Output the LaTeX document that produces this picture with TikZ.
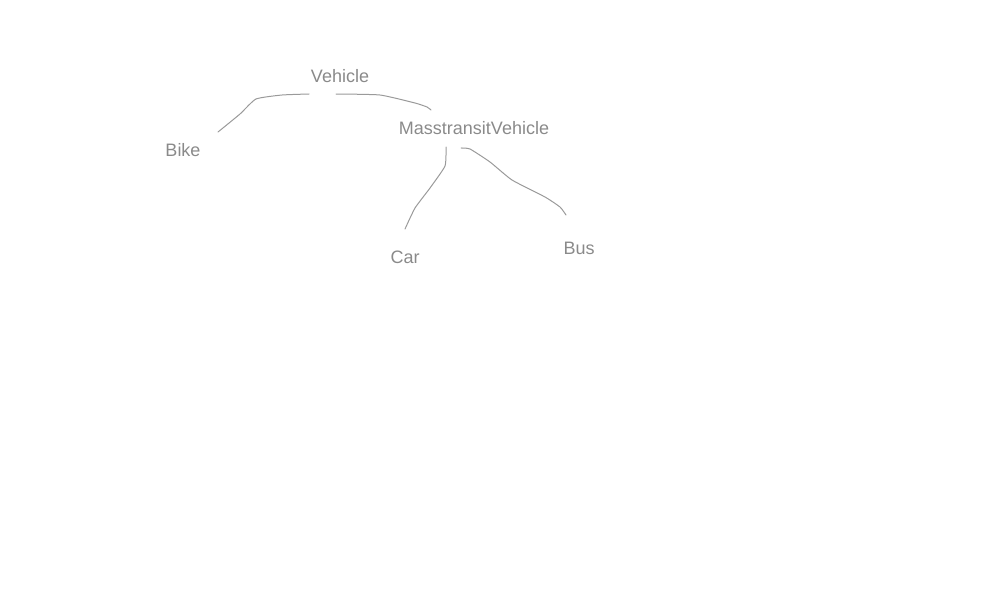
\documentclass[tikz,border=0pt]{standalone}
\usepackage{fontspec}
\setmainfont{Liberation Sans}
\definecolor{ink}{HTML}{8A8A8A}
\definecolor{wirec}{HTML}{9A9A9A}
\begin{document}
\begin{tikzpicture}[x=1pt,y=-1pt,
  lbl/.style={text=ink,font=\fontsize{18}{21}\selectfont,inner sep=0pt},
  wire/.style={draw=wirec,line width=1pt,line cap=round,line join=round}]
\useasboundingbox (0,0) rectangle (1000,600);
\node[lbl] (veh) at (340,76) {Vehicle};
\node[lbl] (bike) at (183,150) {Bike};
\node[lbl] (mtv) at (474,128) {MasstransitVehicle};
\node[lbl] (car) at (405,257) {Car};
\node[lbl] (bus) at (579,248) {Bus};
% Vehicle -> Bike
\coordinate (vb1) at (309,94);
\coordinate (vb2) at (218,132);
\draw[wire] plot[smooth,tension=0.3] coordinates {(vb1) (282,95) (256,99) (240,114) (vb2)};
% Vehicle -> MTV
\coordinate (vm1) at (336,94);
\coordinate (vm2) at (431,110);
\draw[wire] plot[smooth,tension=0.3] coordinates {(vm1) (380,95) (415,103) (427,107) (vm2)};
% MTV -> Car
\coordinate (mc1) at (446,147);
\coordinate (mc2) at (405,229);
\draw[wire] plot[smooth,tension=0.3] coordinates {(mc1) (445,166) (430,188) (415,208) (mc2)};
% MTV -> Bus
\coordinate (mb1) at (461,148);
\coordinate (mb2) at (566,215);
\draw[wire] plot[smooth,tension=0.3] coordinates {(mb1) (470,149) (490,162) (512,180) (545,197) (560,207) (mb2)};
\end{tikzpicture}
\end{document}
